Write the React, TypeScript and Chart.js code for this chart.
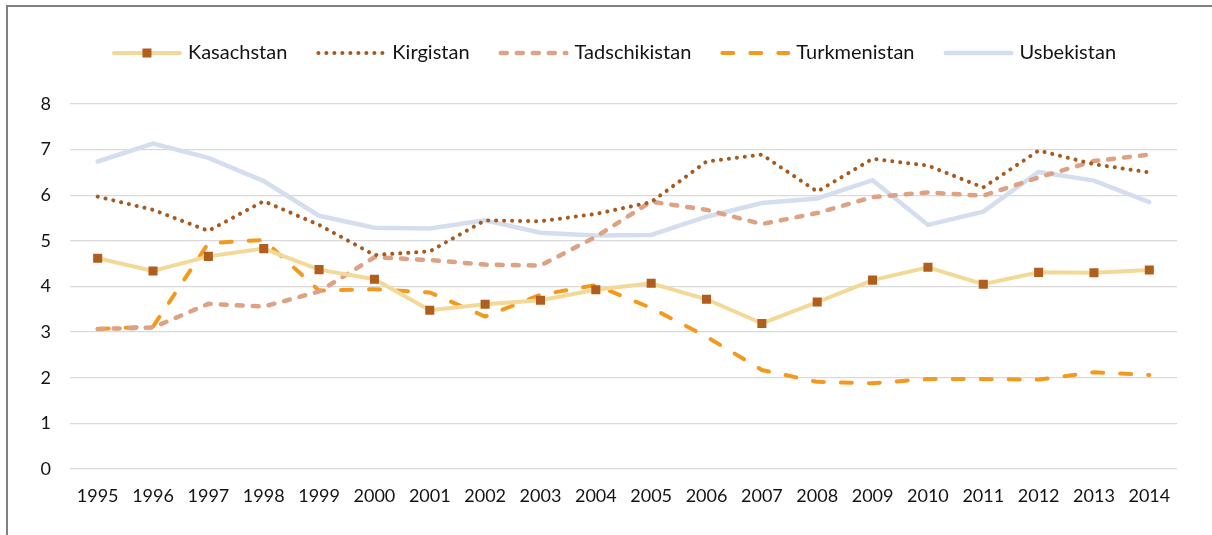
import React, { useEffect, useRef } from "react";
import { Chart, registerables } from "chart.js";

Chart.register(...registerables);

const years = ["1995", "1996", "1997", "1998", "1999", "2000", "2001", "2002", "2003", "2004", "2005", "2006", "2007", "2008", "2009", "2010", "2011", "2012", "2013", "2014"];

const kasachstan = [4.62, 4.34, 4.66, 4.83, 4.37, 4.16, 3.48, 3.61, 3.70, 3.93, 4.07, 3.72, 3.19, 3.66, 4.14, 4.42, 4.05, 4.31, 4.30, 4.36];
const kirgistan = [5.97, 5.68, 5.22, 5.87, 5.35, 4.69, 4.77, 5.45, 5.43, 5.59, 5.85, 6.74, 6.89, 6.08, 6.80, 6.65, 6.17, 6.98, 6.68, 6.50];
const tadschikistan = [3.07, 3.10, 3.62, 3.56, 3.89, 4.64, 4.58, 4.48, 4.46, 5.09, 5.86, 5.68, 5.37, 5.61, 5.96, 6.06, 5.99, 6.39, 6.75, 6.89];
const turkmenistan = [3.07, 3.12, 4.95, 5.02, 3.91, 3.94, 3.87, 3.34, 3.82, 4.03, 3.53, 2.90, 2.17, 1.91, 1.88, 1.97, 1.97, 1.96, 2.12, 2.06];
const usbekistan = [6.74, 7.13, 6.82, 6.31, 5.55, 5.29, 5.27, 5.45, 5.18, 5.12, 5.13, 5.53, 5.83, 5.93, 6.33, 5.35, 5.64, 6.51, 6.32, 5.85];

const yTicks = [0, 1, 2, 3, 4, 5, 6, 7, 8];

const FONT = "Lato";
const TEXT = "#141414";

const legendPlugin = {
  id: "customLegend",
  afterDraw(chart: any) {
    const ctx = chart.ctx as CanvasRenderingContext2D;
    ctx.save();
    ctx.font = `20px ${FONT}`;
    const lineLen = 70;
    const textGap = 6;
    const itemGap = 29;
    const items = chart.data.datasets.map((ds: any) => ({ ds, w: ctx.measureText(ds.label).width }));
    const total = items.reduce((s: number, it: any) => s + lineLen + textGap + it.w, 0) + itemGap * (items.length - 1);
    let x = 614 - total / 2;
    const y = 53;
    for (const it of items) {
      const ds = it.ds;
      const round = ds.borderCapStyle === "round";
      const off = round ? ds.borderWidth / 2 : 0;
      ctx.beginPath();
      ctx.setLineDash(ds.borderDash || []);
      ctx.lineCap = ds.borderCapStyle || "butt";
      ctx.lineWidth = ds.borderWidth;
      ctx.strokeStyle = ds.borderColor;
      ctx.moveTo(x + off, y);
      ctx.lineTo(x + lineLen - off, y);
      ctx.stroke();
      ctx.setLineDash([]);
      if (ds.pointRadius > 0) {
        ctx.fillStyle = ds.pointBackgroundColor;
        ctx.fillRect(x + lineLen / 2 - 4.5, y - 4.5, 9, 9);
      }
      ctx.fillStyle = TEXT;
      ctx.textBaseline = "middle";
      ctx.textAlign = "left";
      ctx.fillText(ds.label, x + lineLen + textGap, y);
      x += lineLen + textGap + it.w + itemGap;
    }
    ctx.restore();
  },
};

export default function App() {
  const ref = useRef<HTMLCanvasElement | null>(null);

  useEffect(() => {
    if (!ref.current) return;
    const chart = new Chart(ref.current, {
      type: "line",
      data: {
        labels: years,
        datasets: [
          {
            label: "Kasachstan",
            data: kasachstan,
            borderColor: "#F3D997",
            borderWidth: 4,
            borderCapStyle: "round",
            pointStyle: "rect",
            pointRadius: 6.4,
            pointBackgroundColor: "#AF5E1D",
            pointBorderWidth: 0,
            pointBorderColor: "#AF5E1D",
            tension: 0,
          } as any,
          {
            label: "Kirgistan",
            data: kirgistan,
            borderColor: "#A8591D",
            borderWidth: 4,
            borderDash: [0.1, 7.9],
            borderCapStyle: "round",
            pointRadius: 0,
            tension: 0,
          } as any,
          {
            label: "Tadschikistan",
            data: tadschikistan,
            borderColor: "#DCA283",
            borderWidth: 4.5,
            borderDash: [6, 10],
            borderCapStyle: "round",
            pointRadius: 0,
            tension: 0,
          } as any,
          {
            label: "Turkmenistan",
            data: turkmenistan,
            borderColor: "#F39A1E",
            borderWidth: 4,
            borderDash: [11, 17],
            borderCapStyle: "round",
            pointRadius: 0,
            tension: 0,
          } as any,
          {
            label: "Usbekistan",
            data: usbekistan,
            borderColor: "#D5DEEF",
            borderWidth: 4.5,
            borderCapStyle: "round",
            pointRadius: 0,
            tension: 0,
          } as any,
        ],
      },
      options: {
        animation: false,
        responsive: false,
        maintainAspectRatio: false,
        layout: { padding: { left: 0, right: 35, top: 104, bottom: 0 } },
        plugins: {
          legend: { display: false },
          tooltip: { enabled: false },
          title: { display: false },
        },
        scales: {
          x: {
            offset: true,
            grid: { display: false, drawTicks: false, offset: true },
            border: { display: false },
            ticks: {
              font: { family: FONT, size: 18 },
              color: TEXT,
              padding: 16,
              maxRotation: 0,
              autoSkip: false,
            },
            afterFit: (s: any) => {
              s.height = 66;
            },
          },
          y: {
            min: 0,
            max: 8,
            afterBuildTicks: (s: any) => {
              s.ticks = yTicks.map((v) => ({ value: v }));
            },
            grid: { color: "#D9D9D9", lineWidth: 1.3, drawTicks: false },
            border: { display: false },
            ticks: {
              font: { family: FONT, size: 18 },
              color: TEXT,
              padding: 19,
            },
            afterFit: (s: any) => {
              s.width = 70;
            },
          },
        },
      },
      plugins: [legendPlugin],
    });
    return () => chart.destroy();
  }, []);

  return (
    <div>
      <div
        style={{
          position: "absolute",
          left: 6,
          top: 5,
          width: 1204,
          height: 528,
          borderLeft: "2px solid #808080",
          borderTop: "2px solid #808080",
          pointerEvents: "none",
        }}
      />
      <canvas
        ref={ref}
        width={1212}
        height={535}
        style={{ position: "absolute", left: 0, top: 0, width: 1212, height: 535 }}
      />
    </div>
  );
}
